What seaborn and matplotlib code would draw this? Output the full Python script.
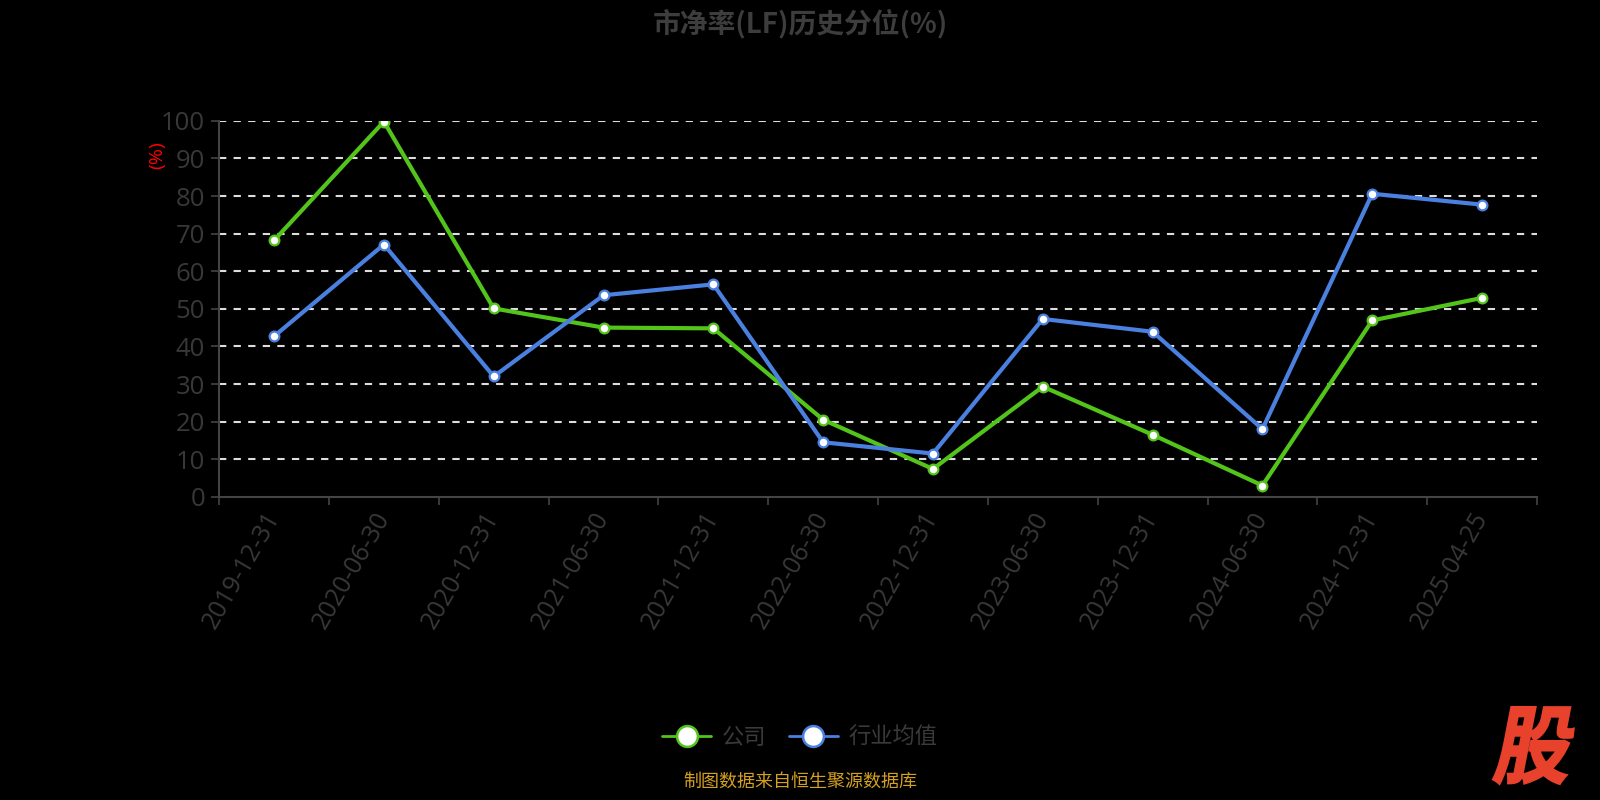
import numpy as np
import pandas as pd
import matplotlib
matplotlib.use('Agg')
import matplotlib.pyplot as plt
import seaborn as sns
from matplotlib.lines import Line2D
from matplotlib.textpath import TextPath
from matplotlib.patches import PathPatch
from matplotlib.font_manager import FontProperties
from matplotlib.transforms import Affine2D, IdentityTransform

# 数据
dates = ['2019-12-31', '2020-06-30', '2020-12-31', '2021-06-30', '2021-12-31', '2022-06-30',
         '2022-12-31', '2023-06-30', '2023-12-31', '2024-06-30', '2024-12-31', '2025-04-25']
company = [68.2, 99.8, 50.1, 45.0, 44.8, 20.5, 7.4, 29.3, 16.5, 3.0, 46.9, 52.9]
industry = [42.7, 67.1, 32.0, 53.6, 56.5, 14.5, 11.5, 47.3, 43.9, 18.0, 80.6, 77.7]
series_names = ['公司', '行业均值']
colors = ['#52c41a', '#4a80e0']

sns.set_theme(style='dark')
plt.rcParams['font.family'] = ['Open Sans', 'Noto Sans CJK SC', 'DejaVu Sans']
plt.rcParams['axes.unicode_minus'] = False

df = pd.DataFrame({
    'date': dates * 2,
    'value': company + industry,
    'series': [series_names[0]] * len(dates) + [series_names[1]] * len(dates),
})
df['x'] = np.tile(np.arange(len(dates)), 2)

fig = plt.figure(figsize=(16, 8), dpi=100, facecolor='black')
ax = fig.add_axes([0.137, 0.379, 0.8236, 0.470])
ax.set_facecolor('black')

# 网格线
for v in range(10, 101, 10):
    ax.axhline(v, color='#dddddd', lw=1.5, ls=(0, (3.5, 3.5)), zorder=1)

sns.lineplot(data=df, x='x', y='value', hue='series', palette=colors,
             hue_order=series_names, lw=3, marker='o', markersize=7,
             markerfacecolor='white', markeredgewidth=1.6, legend=False,
             sort=False, ax=ax, zorder=3)
for line, c in zip(ax.get_lines()[-2:], colors):
    line.set_markeredgecolor(c)

ax.set_xlim(-0.5, len(dates) - 0.5)
ax.set_ylim(0, 100)
ax.set_xlabel('')
ax.set_ylabel('')
ax.grid(False)

ax.set_yticks(range(0, 101, 10))
ax.tick_params(axis='y', colors='#444444', labelcolor='#383838', labelsize=18.5,
               length=6, width=1.2, left=True, pad=4)
ax.set_xticks(range(len(dates)))
ax.set_xticklabels(dates, rotation=60, ha='right', va='center', rotation_mode='anchor')
ax.tick_params(axis='x', which='major', length=0, labelcolor='#383838', labelsize=18, pad=12)
ax.set_xticks(np.arange(-0.5, len(dates), 1), minor=True)
ax.tick_params(axis='x', which='minor', length=6, width=1.2, color='#444444', bottom=True)

for s in ['top', 'right']:
    ax.spines[s].set_visible(False)
for s in ['left', 'bottom']:
    ax.spines[s].set_color('#444444')
    ax.spines[s].set_linewidth(1.5)

fig.text(0.098, 0.806, '(%)', color='red', fontsize=14, rotation=90, ha='center', va='center')

fig.text(0.5, 0.971, '市净率(LF)历史分位(%)', color='#3d3d3d', fontsize=20,
         fontweight='bold', ha='center', va='center',
         family=['Noto Sans CJK SC', 'DejaVu Sans'])

handles = [Line2D([0], [0], color=c, lw=2, marker='o', markersize=15,
                  markerfacecolor='white', markeredgecolor=c, markeredgewidth=1.8)
           for c in colors]
leg = fig.legend(handles, series_names, loc='center', bbox_to_anchor=(0.5, 0.078),
                 ncol=2, frameon=False, handlelength=2.2,
                 columnspacing=1.0, handletextpad=0.5,
                 prop=FontProperties(family='Noto Sans CJK SC', size=16))
for t in leg.get_texts():
    t.set_color('#3a3a3a')

fig.text(0.5, 0.012, '制图数据来自恒生聚源数据库', color='#d4a020', fontsize=13,
         ha='center', va='bottom', family=['Noto Sans CJK SC'])

# 右下角 "股" 标志（斜体、加粗）
tp = TextPath((0, 0), '股', size=100, prop=FontProperties(family='Noto Sans CJK SC', weight='black'))
vx, vy = tp.vertices[:, 0], tp.vertices[:, 1]
k = 0.2
tr = (Affine2D().translate(-vx.min(), -vy.min())
      .scale(1 / (vx.max() - vx.min()), 1 / (vy.max() - vy.min()))
      .skew(np.arctan(k), 0)
      .scale(90 / (1 + k), 77)
      .translate(1490, 16))
fig.add_artist(PathPatch(tr.transform_path(tp), facecolor='#e8412c', edgecolor='#e8412c',
                         lw=1.5, transform=IdentityTransform()))

fig.savefig('out.png', dpi=100, facecolor='black')
